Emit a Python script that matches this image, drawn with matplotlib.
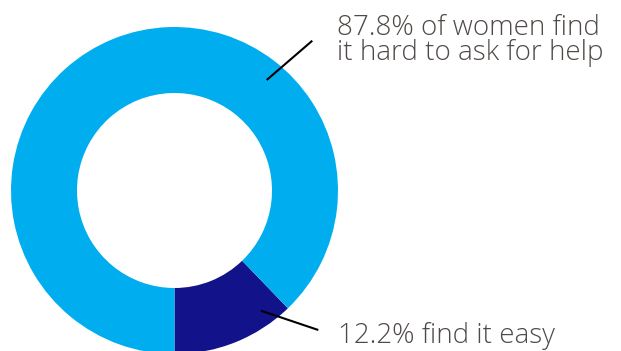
import matplotlib
matplotlib.use('Agg')
import matplotlib.pyplot as plt

# data
labels = ['12.2% find it easy', '87.8% of women find\nit hard to ask for help']
shares = [12.2, 87.8]
colors = ['#12128a', '#00aeef']

W, H = 621, 351
fig = plt.figure(figsize=(W / 100, H / 100), dpi=100)
ax = fig.add_axes([0, 0, 1, 1])

center = (174.5, H - 190.5)
radius = 163.5
ax.pie(shares, colors=colors, startangle=-90, counterclock=True,
       center=center, radius=radius,
       wedgeprops=dict(width=radius - 97.5, linewidth=0))
ax.set_xlim(0, W)
ax.set_ylim(0, H)
ax.set_aspect('auto')
ax.axis('off')

txt = dict(family='Open Sans', weight='light', color='#4f4a47', fontsize=20,
           linespacing=0.86)

# leader lines + labels
ax.plot([266.7, 312.3], [H - 80, H - 40.7], color='black', lw=1.5,
        solid_capstyle='butt')
ax.text(337, H - 60, labels[1], va='baseline', ha='left', **txt)

ax.plot([261, 318.3], [H - 310.7, H - 330], color='black', lw=1.5,
        solid_capstyle='butt')
ax.text(338, H - 343, labels[0], va='baseline', ha='left', **txt)

fig.savefig('out.png', dpi=100)
